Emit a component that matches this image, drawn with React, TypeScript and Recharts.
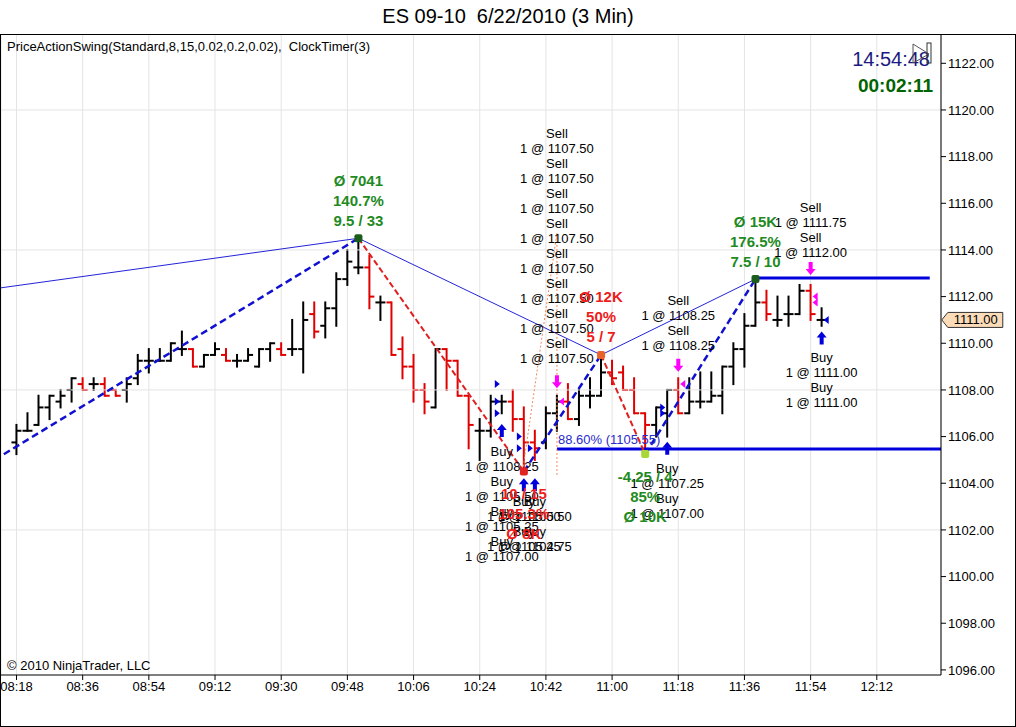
import React from "react";
import {
  ComposedChart,
  Bar,
  Line,
  Scatter,
  XAxis,
  YAxis,
  CartesianGrid,
  ReferenceLine,
  ReferenceDot,
} from "recharts";

const FONT = 'Arial, "Liberation Sans", sans-serif';
const RED = "#e00000";
const BLUE = "#0000dd";
const MAGENTA = "#ff00ff";
const GREEN_TXT = "#1f8a1f";
const RED_TXT = "#ee1c1c";

// ES 09-10, 3 min bars from 08:18 to 11:57
const opens = [
  1105.75, 1106.25, 1106.5, 1107.25, 1107.5, 1108.0, 1108.25, 1108.25, 1108.25, 1108.0,
  1108.0, 1108.5, 1109.25, 1109.25, 1109.25, 1109.75, 1109.75, 1109.0, 1109.5, 1109.5,
  1109.25, 1109.25, 1109.0, 1109.75, 1109.75, 1109.75, 1109.75, 1111.25, 1110.75, 1111.5,
  1112.75, 1113.25, 1113.25, 1111.75, 1111.75, 1109.75, 1109.0, 1108.0, 1107.25, 1109.75,
  1109.25, 1107.75, 1106.25, 1106.25, 1107.5, 1107.5, 1106.75, 1105.75, 1105.75, 1107.0,
  1107.5, 1106.75, 1107.75, 1107.75, 1108.75, 1108.75, 1108.0, 1107.0, 1106.5, 1107.0,
  1108.0, 1107.0, 1107.5, 1107.5, 1107.75, 1109.0, 1109.75, 1110.75, 1111.75, 1111.0,
  1111.25, 1111.25, 1112.25, 1111.0,
];
const highs = [
  1106.5, 1107.0, 1107.75, 1107.75, 1108.0, 1108.5, 1108.5, 1108.5, 1108.5, 1108.0,
  1108.5, 1109.5, 1109.75, 1109.75, 1110.0, 1110.5, 1109.75, 1109.5, 1110.0, 1109.75,
  1109.5, 1109.75, 1109.75, 1110.0, 1110.0, 1111.0, 1111.75, 1111.75, 1111.75, 1113.0,
  1114.0, 1114.5, 1113.75, 1112.0, 1111.75, 1110.25, 1109.5, 1108.25, 1109.75, 1109.75,
  1109.25, 1107.75, 1106.75, 1107.75, 1107.75, 1108.0, 1107.25, 1106.25, 1107.25, 1107.75,
  1108.25, 1108.0, 1108.5, 1109.5, 1109.25, 1109.0, 1108.5, 1107.0, 1107.25, 1108.0,
  1108.5, 1108.5, 1108.75, 1108.75, 1109.0, 1110.0, 1111.25, 1112.75, 1112.25, 1112.0,
  1112.0, 1112.5, 1112.5, 1111.5,
];
const lows = [
  1105.25, 1106.25, 1106.5, 1106.75, 1107.25, 1107.5, 1108.0, 1108.0, 1107.75, 1107.75,
  1107.5, 1108.25, 1108.75, 1109.25, 1109.25, 1109.5, 1109.0, 1109.0, 1109.5, 1109.25,
  1109.0, 1109.25, 1109.0, 1109.25, 1109.5, 1109.5, 1108.75, 1110.25, 1110.25, 1110.75,
  1112.5, 1113.0, 1111.5, 1111.0, 1109.5, 1108.5, 1107.5, 1107.0, 1107.25, 1108.0,
  1107.75, 1105.5, 1105.0, 1106.0, 1107.0, 1106.25, 1104.5, 1105.0, 1105.5, 1106.25,
  1106.75, 1106.5, 1107.25, 1107.75, 1108.25, 1108.0, 1107.0, 1105.25, 1106.0, 1106.0,
  1107.0, 1107.0, 1107.25, 1107.5, 1107.0, 1108.25, 1109.0, 1110.75, 1111.0, 1110.75,
  1110.75, 1111.25, 1111.0, 1110.75,
];
const closes = [
  1106.25, 1106.25, 1107.25, 1107.75, 1107.75, 1108.5, 1108.0, 1108.25, 1107.75, 1107.75,
  1108.25, 1109.25, 1109.25, 1109.25, 1110.0, 1109.75, 1109.0, 1109.5, 1109.75, 1109.25,
  1109.25, 1109.5, 1109.75, 1110.0, 1109.5, 1109.75, 1111.0, 1110.5, 1111.5, 1112.75,
  1113.5, 1113.25, 1112.0, 1111.75, 1109.5, 1109.0, 1108.0, 1107.5, 1109.75, 1109.25,
  1107.75, 1106.5, 1106.25, 1107.5, 1107.5, 1106.75, 1105.75, 1105.5, 1107.0, 1107.5,
  1106.75, 1107.75, 1107.75, 1108.75, 1108.5, 1108.0, 1107.0, 1106.5, 1107.25, 1108.0,
  1107.0, 1107.5, 1107.5, 1107.75, 1109.0, 1109.75, 1110.75, 1111.75, 1111.25, 1111.0,
  1111.25, 1112.25, 1111.25, 1111.0,
];

const timeLabels = [
  "08:18", "08:36", "08:54", "09:12", "09:30", "09:48", "10:06",
  "10:24", "10:42", "11:00", "11:18", "11:36", "11:54", "12:12",
];
const timeTickBars = [0, 6, 12, 18, 24, 30, 36, 42, 48, 54, 60, 66, 72, 78];
const priceTicks = [
  1096, 1098, 1100, 1102, 1104, 1106, 1108, 1110, 1112, 1114, 1116, 1118, 1120, 1122,
];
const gridPrices = [1102, 1108, 1114, 1120];

// PriceActionSwing points (first one is off the left edge)
const swingBars = [-2, 31, 46, 53, 57, 67];
const swingPrices = [1105.0, 1114.5, 1104.5, 1109.5, 1105.25, 1112.75];
const swingTexts = [
  [],
  ["Ø 7041", "140.7%", "9.5 / 33"],
  ["10 / 15", "105.3%", "Ø 8K"],
  ["Ø 12K", "50%", "5 / 7"],
  ["-4.25 / 4", "85%", "Ø 10K"],
  ["Ø 15K", "176.5%", "7.5 / 10"],
];

// thin line through the swing highs
const majorBars = [-1.5, 31, 53, 67];
const majorPrices = [1112.37, 1114.5, 1109.5, 1112.75];

// horizontal levels
const levelPrices = [1112.8, 1105.47];
const levelFrom = [67, 49];
const levelTo = [82.8, 83.82];
const retraceText = "88.60% (1105.55)";

// trade labels
const tradeBars = [49, 60, 72, 73, 59, 44, 46, 47];
const tradeTops = [1119.0, 1111.82, 1115.81, 1109.37, 1104.65, 1105.38, 1103.2, 1103.2];
const tradeSides = ["Sell", "Sell", "Sell", "Buy", "Buy", "Buy", "Buy", "Buy"];
const tradeFills = [
  ["1107.50", "1107.50", "1107.50", "1107.50", "1107.50", "1107.50", "1107.50", "1107.50"],
  ["1108.25", "1108.25"],
  ["1111.75", "1112.00"],
  ["1111.00", "1111.00"],
  ["1107.25", "1107.00"],
  ["1108.25", "1105.50", "1105.25", "1107.00"],
  ["1105.00", "1105.25"],
  ["1105.50", "1104.75"],
];

// execution markers
const buyArrowBars = [44, 46, 47, 59, 73];
const buyArrowPrices = [1106.54, 1104.21, 1104.21, 1105.78, 1110.5];
const sellArrowBars = [49, 60, 72];
const sellArrowPrices = [1108.07, 1108.78, 1112.93];
const entryBars = [44, 44, 44, 46, 46, 47, 59, 59];
const entryPrices = [1108.25, 1107.5, 1107.0, 1106.0, 1105.5, 1105.5, 1107.25, 1107.0];
const exitBars = [49, 60, 72, 72, 73];
const exitPrices = [1107.5, 1108.25, 1112.0, 1111.75, 1111.0];
const exitSides = ["Sell", "Sell", "Sell", "Sell", "Buy"];

// dotted trade link
const linkBars = [45.9, 49, 49];
const linkPrices = [1104.55, 1114.73, 1104.32];

const X_DOMAIN: [number, number] = [-1.405, 83.82];
const Y_DOMAIN: [number, number] = [1095.781, 1123.213];

const bars = opens.map((o, i) => ({
  i,
  o,
  h: highs[i],
  l: lows[i],
  c: closes[i],
  range: [lows[i], highs[i]],
}));

const pts = (xs: number[], ys: number[]) => xs.map((x, k) => ({ i: x, p: ys[k] }));

const swingSegments = swingBars.slice(1).map((b, k) => ({
  up: swingPrices[k + 1] > swingPrices[k],
  data: pts([swingBars[k], b], [swingPrices[k], swingPrices[k + 1]]),
}));

const swingPoints = swingBars.slice(1).map((b, k) => {
  const idx = k + 1;
  const isHigh = swingPrices[idx] > swingPrices[idx - 1];
  const ref = idx >= 2 ? swingPrices[idx - 2] : majorPrices[0];
  const good = swingPrices[idx] > ref;
  return { i: b, p: swingPrices[idx], isHigh, good, texts: swingTexts[idx] };
});

const tradeGroups = tradeBars.map((b, k) => ({
  i: b,
  p: tradeTops[k],
  lines: tradeFills[k].flatMap((f) => [tradeSides[k], `1 @ ${f}`]),
}));

function OhlcShape(props: any) {
  const { x, y, width, height, payload } = props;
  if (x == null || y == null || !payload) return null;
  const cx = x + width / 2;
  const top = Math.min(y, y + height);
  const bot = Math.max(y, y + height);
  const span = payload.h - payload.l;
  const toY = (v: number) => (span === 0 ? top : top + ((payload.h - v) / span) * (bot - top));
  const color = payload.c < payload.o ? RED : "#000";
  return (
    <g stroke={color} strokeWidth={2}>
      <line x1={cx} x2={cx} y1={top - 1} y2={bot + 1} />
      <line x1={cx - 5} x2={cx} y1={toY(payload.o)} y2={toY(payload.o)} />
      <line x1={cx} x2={cx + 5} y1={toY(payload.c)} y2={toY(payload.c)} />
    </g>
  );
}

function SwingShape(props: any) {
  const { cx, cy, payload } = props;
  if (cx == null) return null;
  const txtColor = payload.good ? GREEN_TXT : RED_TXT;
  let mark = "#1b5e1b";
  if (payload.isHigh && !payload.good) mark = "#e8622c";
  if (!payload.isHigh && !payload.good) mark = "#e02424";
  if (!payload.isHigh && payload.good) mark = "#a8d838";
  const offs = payload.isHigh ? [-58, -38, -18] : [22, 42, 62];
  return (
    <g>
      <rect x={cx - 4} y={cy - 4} width={8} height={8} rx={2} fill={mark} />
      {payload.texts.map((t: string, k: number) => (
        <text
          key={k}
          x={cx}
          y={cy + offs[k]}
          textAnchor="middle"
          dominantBaseline="central"
          fontFamily={FONT}
          fontWeight="bold"
          fontSize={15}
          fill={txtColor}
        >
          {t}
        </text>
      ))}
    </g>
  );
}

function TradeLabelShape(props: any) {
  const { cx, cy, payload } = props;
  if (cx == null) return null;
  return (
    <g>
      {payload.lines.map((t: string, k: number) => (
        <text
          key={k}
          x={cx}
          y={cy + k * 15}
          textAnchor="middle"
          dominantBaseline="central"
          fontFamily={FONT}
          fontSize={13}
          fill="#000"
        >
          {t}
        </text>
      ))}
    </g>
  );
}

function UpArrow(props: any) {
  const { cx, cy } = props;
  if (cx == null) return null;
  return (
    <polygon
      points={`${cx},${cy} ${cx + 5},${cy + 6} ${cx + 2},${cy + 6} ${cx + 2},${cy + 13} ${cx - 2},${cy + 13} ${cx - 2},${cy + 6} ${cx - 5},${cy + 6}`}
      fill={BLUE}
    />
  );
}

function DownArrow(props: any) {
  const { cx, cy } = props;
  if (cx == null) return null;
  return (
    <polygon
      points={`${cx},${cy} ${cx + 5},${cy - 6} ${cx + 2},${cy - 6} ${cx + 2},${cy - 13} ${cx - 2},${cy - 13} ${cx - 2},${cy - 6} ${cx - 5},${cy - 6}`}
      fill={MAGENTA}
    />
  );
}

function EntryTriangle(props: any) {
  const { cx, cy } = props;
  if (cx == null) return null;
  return <polygon points={`${cx - 7},${cy - 4} ${cx - 2},${cy} ${cx - 7},${cy + 4}`} fill={BLUE} />;
}

function ExitTriangle(props: any) {
  const { cx, cy, payload } = props;
  if (cx == null) return null;
  return (
    <polygon
      points={`${cx + 7},${cy - 4} ${cx + 2},${cy} ${cx + 7},${cy + 4}`}
      fill={payload.side === "Buy" ? BLUE : MAGENTA}
    />
  );
}

function RetraceLabel(props: any) {
  const { cx, cy } = props;
  if (cx == null) return null;
  return (
    <text x={cx + 1} y={cy - 9} fontFamily={FONT} fontSize={13} fill="#2a2acc" dominantBaseline="central">
      {retraceText}
    </text>
  );
}

function PriceTag(props: any) {
  const { cx, cy } = props;
  if (cx == null) return null;
  return (
    <g>
      <polygon
        points={`${cx + 1},${cy} ${cx + 7},${cy - 7.5} ${cx + 62},${cy - 7.5} ${cx + 62},${cy + 7.5} ${cx + 7},${cy + 7.5}`}
        fill="#fcdcb8"
        stroke="#333"
        strokeWidth={1}
      />
      <text x={cx + 35} y={cy} textAnchor="middle" dominantBaseline="central" fontFamily={FONT} fontSize={13} fill="#000">
        {closes[closes.length - 1].toFixed(2)}
      </text>
    </g>
  );
}

export default function App() {
  return (
    <div style={{ position: "absolute", left: 0, top: 0, width: 1016, height: 727, background: "#fff", fontFamily: FONT }}>
      <div style={{ position: "absolute", left: 0, top: 5, width: 1016, textAlign: "center", fontSize: 20, color: "#000" }}>
        ES 09-10&nbsp;&nbsp;6/22/2010 (3 Min)
      </div>
      <div style={{ position: "absolute", left: 0, top: 0 }}>
        <ComposedChart
          width={1016}
          height={727}
          data={bars}
          margin={{ top: 35, right: 1, bottom: 1, left: 1 }}
        >
          <CartesianGrid horizontal={false} stroke="#e4e4e4" />
          {gridPrices.map((g) => (
            <ReferenceLine key={g} y={g} stroke="#e4e4e4" />
          ))}
          <XAxis
            dataKey="i"
            type="number"
            domain={X_DOMAIN}
            allowDataOverflow
            ticks={timeTickBars}
            interval={0}
            tickFormatter={(v: number) => timeLabels[timeTickBars.indexOf(v)] ?? ""}
            height={51}
            tickSize={5}
            stroke="#000"
            tick={{ fontSize: 13, fill: "#000", fontFamily: FONT }}
          />
          <YAxis
            orientation="right"
            type="number"
            domain={Y_DOMAIN}
            allowDataOverflow
            ticks={priceTicks}
            interval={0}
            tickFormatter={(v: number) => v.toFixed(2)}
            width={74}
            tickSize={5}
            stroke="#000"
            tick={{ fontSize: 13, fill: "#000", fontFamily: FONT }}
          />
          <Line
            data={pts(majorBars, majorPrices)}
            dataKey="p"
            stroke="#2323d8"
            strokeWidth={1}
            dot={false}
            activeDot={false}
            isAnimationActive={false}
          />
          {levelPrices.map((lp, k) => (
            <Line
              key={`lvl${k}`}
              data={pts([levelFrom[k], levelTo[k]], [lp, lp])}
              dataKey="p"
              stroke={BLUE}
              strokeWidth={3}
              dot={false}
              activeDot={false}
              isAnimationActive={false}
            />
          ))}
          <Line
            data={pts(linkBars, linkPrices)}
            dataKey="p"
            stroke="#f08a5a"
            strokeWidth={1}
            strokeDasharray="2 2"
            dot={false}
            activeDot={false}
            isAnimationActive={false}
          />
          <Bar dataKey="range" barSize={6} shape={<OhlcShape />} isAnimationActive={false} />
          {swingSegments.map((s, k) => (
            <Line
              key={`sw${k}`}
              data={s.data}
              dataKey="p"
              stroke={s.up ? "#1010d0" : "#e02020"}
              strokeWidth={s.up ? 2.5 : 2}
              strokeDasharray={s.up ? "7 4" : "6 3"}
              dot={false}
              activeDot={false}
              isAnimationActive={false}
            />
          ))}
          <Scatter
            data={pts(entryBars, entryPrices)}
            dataKey="p"
            shape={<EntryTriangle />}
            isAnimationActive={false}
          />
          <Scatter
            data={exitBars.map((b, k) => ({ i: b, p: exitPrices[k], side: exitSides[k] }))}
            dataKey="p"
            shape={<ExitTriangle />}
            isAnimationActive={false}
          />
          <Scatter data={pts(buyArrowBars, buyArrowPrices)} dataKey="p" shape={<UpArrow />} isAnimationActive={false} />
          <Scatter data={pts(sellArrowBars, sellArrowPrices)} dataKey="p" shape={<DownArrow />} isAnimationActive={false} />
          <Scatter
            data={[{ i: levelFrom[1], p: levelPrices[1] }]}
            dataKey="p"
            shape={<RetraceLabel />}
            isAnimationActive={false}
          />
          <Scatter data={tradeGroups} dataKey="p" shape={<TradeLabelShape />} isAnimationActive={false} />
          <Scatter data={swingPoints} dataKey="p" shape={<SwingShape />} isAnimationActive={false} />
          <ReferenceDot
            x={83.8}
            y={closes[closes.length - 1]}
            r={0}
            ifOverflow="visible"
            shape={(p: any) => <PriceTag {...p} />}
          />
        </ComposedChart>
      </div>
      <div
        style={{
          position: "absolute",
          left: 0,
          top: 34,
          width: 1016,
          height: 693,
          border: "1px solid #000",
          boxSizing: "border-box",
          pointerEvents: "none",
        }}
      />
      <div style={{ position: "absolute", left: 7, top: 39, fontSize: 13, color: "#000", whiteSpace: "pre" }}>
        {"PriceActionSwing(Standard,8,15,0.02,0.2,0.02),  ClockTimer(3)"}
      </div>
      <div style={{ position: "absolute", right: 86, top: 48, fontSize: 20, color: "#1a1a80" }}>14:54:48</div>
      <div style={{ position: "absolute", right: 83, top: 75, fontSize: 19, fontWeight: "bold", color: "#006400" }}>
        00:02:11
      </div>
      <svg style={{ position: "absolute", left: 910, top: 40 }} width={26} height={26}>
        <polygon points="3,4 19,14 3,23" fill="none" stroke="#555" strokeWidth={1} />
        <rect x={17} y={3} width={4} height={20} fill="none" stroke="#333" strokeWidth={1} />
      </svg>
      <div style={{ position: "absolute", left: 7, top: 658, fontSize: 13, color: "#000" }}>
        © 2010 NinjaTrader, LLC
      </div>
    </div>
  );
}
